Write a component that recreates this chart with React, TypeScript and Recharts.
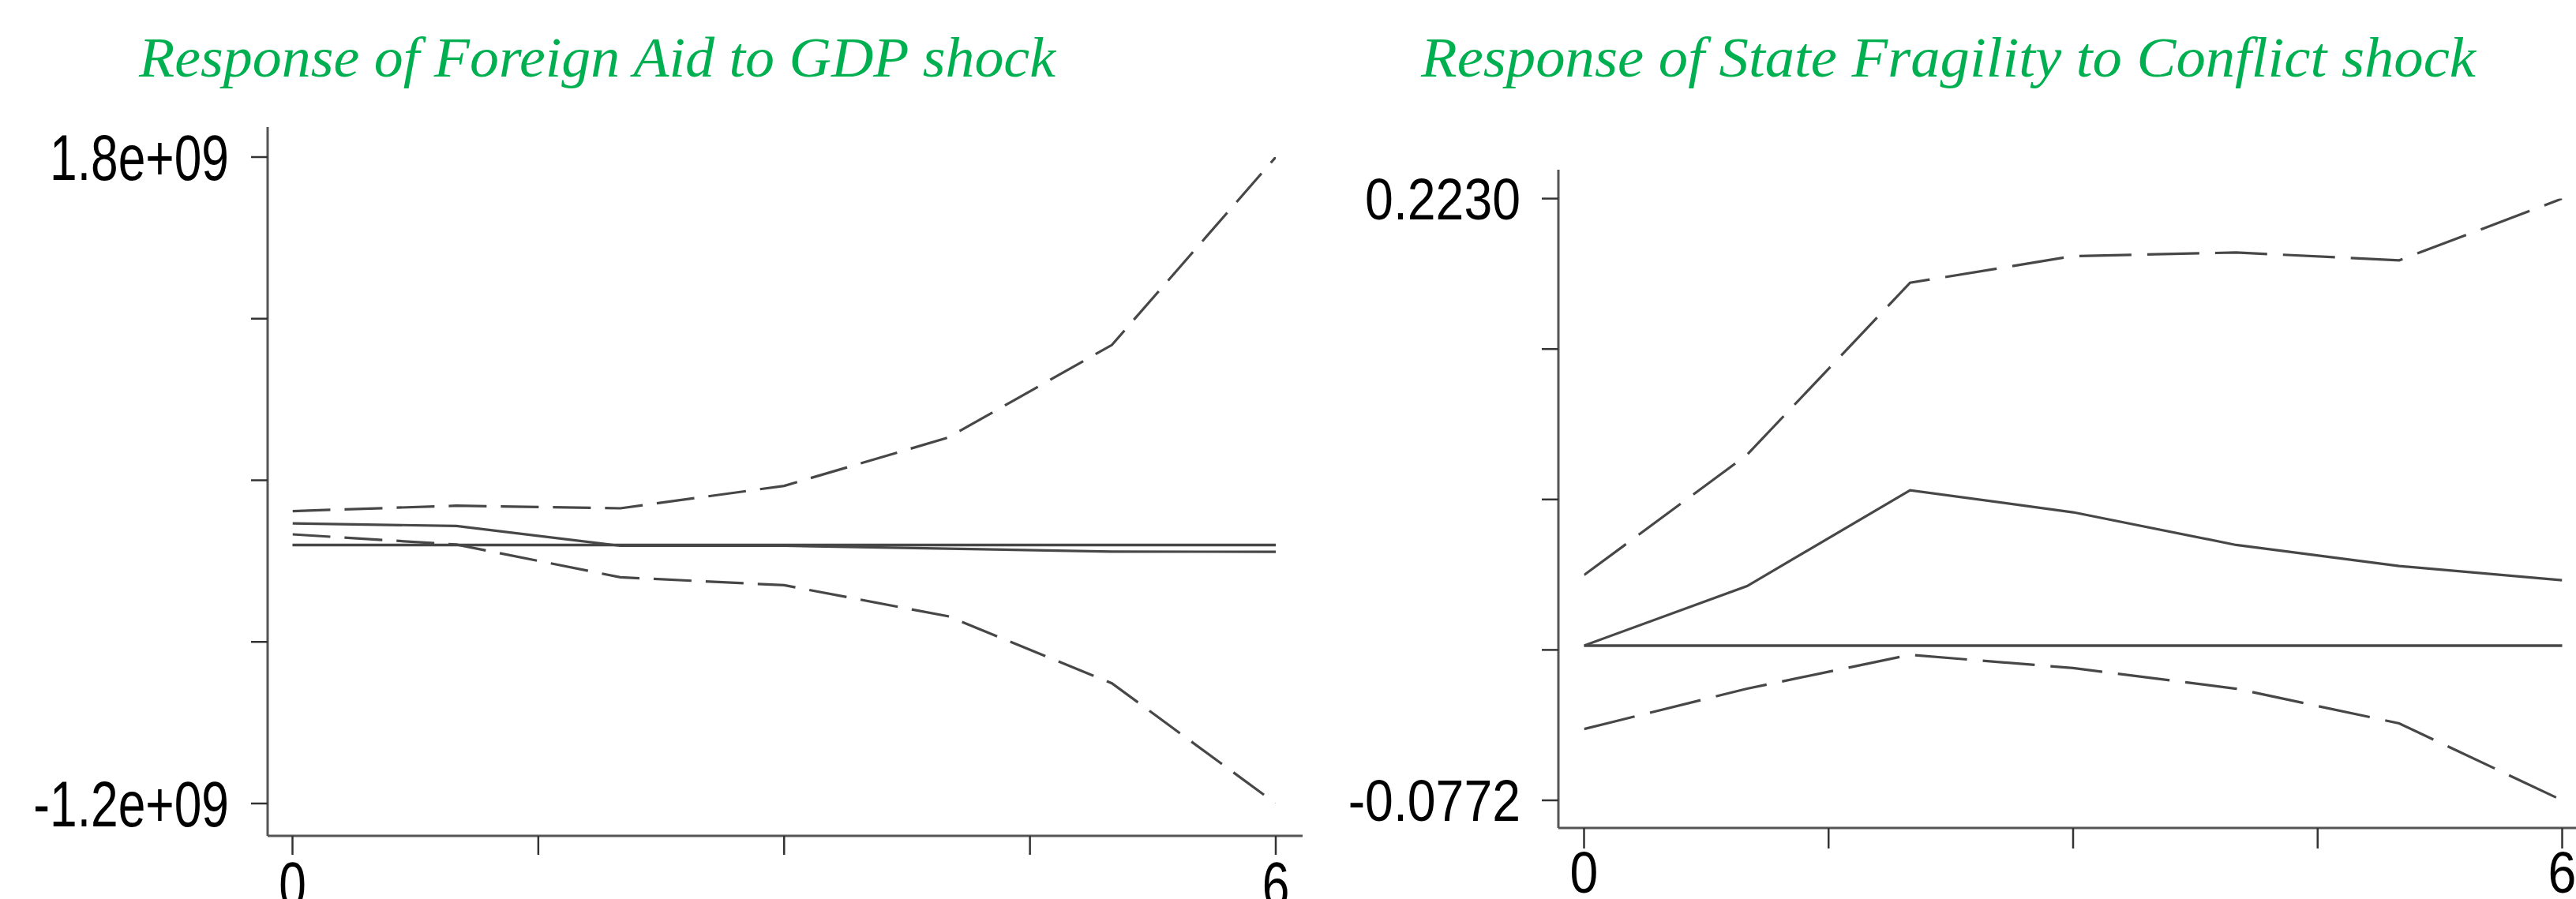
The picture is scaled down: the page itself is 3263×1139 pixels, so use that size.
import React from 'react';
import { LineChart, Line, XAxis, YAxis, ReferenceLine } from 'recharts';

// ---- data ----
const steps = [0, 1, 2, 3, 4, 5, 6];

const aidUpper = [157e6, 182e6, 170e6, 274e6, 498e6, 928e6, 1.8e9];
const aidIrf = [100e6, 88e6, -4e6, -4e6, -17e6, -31e6, -32e6];
const aidLower = [49e6, 2e6, -150e6, -187e6, -331e6, -642e6, -1.2e9];

const fragUpper = [0.0352, 0.0952, 0.181, 0.1943, 0.1961, 0.1922, 0.223];
const fragIrf = [0, 0.0297, 0.0775, 0.0665, 0.0502, 0.0397, 0.0326];
const fragLower = [-0.0416, -0.0215, -0.0046, -0.0112, -0.0215, -0.0388, -0.0772];

const xTicks = [0, 1.5, 3, 4.5, 6];
const xTickLabels = ['0', '', '', '', '6'];

const aidYTicks = [1.8e9, 1.05e9, 0.3e9, -0.45e9, -1.2e9];
const aidYLabels = ['1.8e+09', '', '', '', '-1.2e+09'];

const fragYTicks = [0.223, 0.14795, 0.0729, -0.00215, -0.0772];
const fragYLabels = ['0.2230', '', '', '', '-0.0772'];

const titleLeft = 'Response of Foreign Aid to GDP shock';
const titleRight = 'Response of State Fragility to Conflict shock';

const aidData = steps.map((s, i) => ({ step: s, upper: aidUpper[i], irf: aidIrf[i], lower: aidLower[i] }));
const fragData = steps.map((s, i) => ({ step: s, upper: fragUpper[i], irf: fragIrf[i], lower: fragLower[i] }));

const LINE = '#474747';
const AXIS = '#555555';
const SANS = "'Liberation Sans', Arial, sans-serif";

function makeYTick(ticks: number[], labels: string[], fs: number, sx: number, gap: number) {
  return (props: any) => {
    const { x, y, payload } = props;
    const idx = ticks.findIndex((t) => Math.abs(t - payload.value) < 1e-9 * Math.max(1, Math.abs(t)));
    const label = idx >= 0 ? labels[idx] : '';
    if (!label) return <g />;
    return (
      <text
        transform={`translate(${x - gap},${y + 0.358 * fs}) scale(${sx},1)`}
        x={0}
        y={0}
        textAnchor="end"
        fontFamily={SANS}
        fontSize={fs}
        fill="#000"
      >
        {label}
      </text>
    );
  };
}

function makeXTick(fs: number, sx: number, baseOffset: number) {
  return (props: any) => {
    const { x, y, payload } = props;
    const idx = xTicks.findIndex((t) => Math.abs(t - payload.value) < 1e-9);
    const label = idx >= 0 ? xTickLabels[idx] : '';
    if (!label) return <g />;
    return (
      <text
        transform={`translate(${x},${y + baseOffset}) scale(${sx},1)`}
        x={0}
        y={0}
        textAnchor="middle"
        fontFamily={SANS}
        fontSize={fs}
        fill="#000"
      >
        {label}
      </text>
    );
  };
}

export default function App() {
  return (
    <div style={{ position: 'absolute', left: 0, top: 0, width: 3263, height: 1139, background: '#fff', overflow: 'hidden' }}>
      <svg width={3263} height={1139} style={{ position: 'absolute', left: 0, top: 0 }}>
        <text
          x={176}
          y={97}
          fontFamily="'Liberation Serif', 'DejaVu Serif', serif"
          fontStyle="italic"
          fontSize={71}
          fill="#00B050"
          textLength={1161}
          lengthAdjust="spacingAndGlyphs"
        >
          {titleLeft}
        </text>
        <text
          x={1800}
          y={97}
          fontFamily="'Liberation Serif', 'DejaVu Serif', serif"
          fontStyle="italic"
          fontSize={71}
          fill="#00B050"
          textLength={1336}
          lengthAdjust="spacingAndGlyphs"
        >
          {titleRight}
        </text>
      </svg>

      <div style={{ position: 'absolute', left: 0, top: 0 }}>
        <LineChart width={1660} height={1139} data={aidData} margin={{ top: 161, right: 10, bottom: 0, left: 0 }}>
          <XAxis
            dataKey="step"
            type="number"
            domain={[0, 6]}
            ticks={xTicks}
            interval={0}
            padding={{ left: 31.5, right: 34 }}
            allowDataOverflow
            height={80}
            tickSize={24}
            tickMargin={0}
            axisLine={{ stroke: AXIS, strokeWidth: 3 }}
            tickLine={{ stroke: '#333', strokeWidth: 2.5 }}
            tick={makeXTick(82, 0.76, 66)}
          />
          <YAxis
            type="number"
            domain={[-1.2e9, 1.8e9]}
            ticks={aidYTicks}
            interval={0}
            padding={{ top: 38, bottom: 41 }}
            allowDataOverflow
            width={339}
            tickSize={21}
            tickMargin={0}
            axisLine={{ stroke: AXIS, strokeWidth: 3 }}
            tickLine={{ stroke: '#333', strokeWidth: 2.5 }}
            tick={makeYTick(aidYTicks, aidYLabels, 82, 0.76, 28)}
          />
          <ReferenceLine segment={[{ x: 0, y: 0 }, { x: 6, y: 0 }]} stroke={LINE} strokeWidth={3.5} ifOverflow="visible" />
          <Line type="linear" dataKey="upper" stroke={LINE} strokeWidth={3.2} strokeDasharray="48 18" dot={false} activeDot={false} isAnimationActive={false} />
          <Line type="linear" dataKey="irf" stroke={LINE} strokeWidth={3.2} dot={false} activeDot={false} isAnimationActive={false} />
          <Line type="linear" dataKey="lower" stroke={LINE} strokeWidth={3.2} strokeDasharray="48 18" dot={false} activeDot={false} isAnimationActive={false} />
        </LineChart>
      </div>

      <div style={{ position: 'absolute', left: 1660, top: 0 }}>
        <LineChart width={1603} height={1139} data={fragData} margin={{ top: 215, right: 0, bottom: 0, left: 0 }}>
          <XAxis
            dataKey="step"
            type="number"
            domain={[0, 6]}
            ticks={xTicks}
            interval={0}
            padding={{ left: 32.5, right: 17.5 }}
            allowDataOverflow
            height={90}
            tickSize={26}
            tickMargin={0}
            axisLine={{ stroke: AXIS, strokeWidth: 3 }}
            tickLine={{ stroke: '#333', strokeWidth: 2.5 }}
            tick={makeXTick(74, 0.87, 56)}
          />
          <YAxis
            type="number"
            domain={[-0.0772, 0.223]}
            ticks={fragYTicks}
            interval={0}
            padding={{ top: 36.6, bottom: 35 }}
            allowDataOverflow
            width={314}
            tickSize={21}
            tickMargin={0}
            axisLine={{ stroke: AXIS, strokeWidth: 3 }}
            tickLine={{ stroke: '#333', strokeWidth: 2.5 }}
            tick={makeYTick(fragYTicks, fragYLabels, 74, 0.87, 27)}
          />
          <ReferenceLine segment={[{ x: 0, y: 0 }, { x: 6, y: 0 }]} stroke={LINE} strokeWidth={3.5} ifOverflow="visible" />
          <Line type="linear" dataKey="upper" stroke={LINE} strokeWidth={3.2} strokeDasharray="66 20" dot={false} activeDot={false} isAnimationActive={false} />
          <Line type="linear" dataKey="irf" stroke={LINE} strokeWidth={3.2} dot={false} activeDot={false} isAnimationActive={false} />
          <Line type="linear" dataKey="lower" stroke={LINE} strokeWidth={3.2} strokeDasharray="66 20" dot={false} activeDot={false} isAnimationActive={false} />
        </LineChart>
      </div>
    </div>
  );
}
